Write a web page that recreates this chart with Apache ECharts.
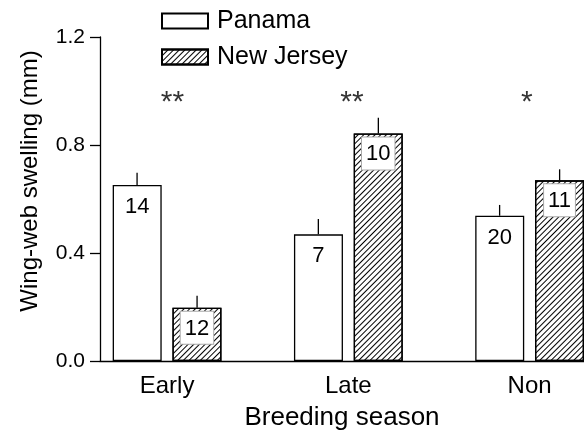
<!DOCTYPE html>
<html>
<head>
<meta charset="utf-8">
<script src="https://cdn.jsdelivr.net/npm/echarts@6/dist/echarts.min.js"></script>
<style>html,body{margin:0;padding:0;background:#fff}#c{width:584px;height:438px}</style>
</head>
<body>
<div id="c"></div>
<script>
const categories = ['Early', 'Late', 'Non'];
const categoryPos = [1, 2, 3];
const panama = [0.652, 0.469, 0.538];
const panamaErr = [0.045, 0.057, 0.040];
const newJersey = [0.197, 0.843, 0.669];
const newJerseyErr = [0.045, 0.058, 0.041];
const panamaN = [14, 7, 20];
const newJerseyN = [12, 10, 11];
const stars = ['**', '**', '*'];
const starPos = [1.03, 2.02, 2.985];
const starY = [0.955, 0.955, 0.955];
const yTicks = [0, 0.4, 0.8, 1.2];

const FONT = 'Liberation Sans, Arial, Helvetica, sans-serif';
const BAR_OFF = 30;
const hatch = {
  symbol: 'rect', color: '#000', backgroundColor: null,
  dashArrayX: [1, 0], dashArrayY: [0.9, 2.5], rotation: -Math.PI / 4, symbolSize: 1
};

function errRender(off) {
  return function (params, api) {
    const x = api.value(0), v = api.value(1), e = api.value(2);
    const p0 = api.coord([x, v]);
    const p1 = api.coord([x, v + e]);
    return {
      type: 'line',
      shape: { x1: p0[0] + off, y1: p0[1], x2: p1[0] + off, y2: p1[1] },
      style: { stroke: '#000', lineWidth: 1.3 }
    };
  };
}

const chart = echarts.init(document.getElementById('c'), null, { renderer: 'canvas' });
chart.setOption({
  animation: false,
  backgroundColor: '#fff',
  textStyle: { fontFamily: FONT, color: '#000' },
  grid: { left: 100, right: 0, top: 37, bottom: 77, outerBoundsMode: 'none', containLabel: false },
  legend: {
    data: ['Panama', 'New Jersey'],
    orient: 'vertical', left: 156, top: 3,
    icon: 'rect', itemWidth: 46, itemHeight: 15, itemGap: 10,
    textStyle: { fontSize: 25, color: '#000', fontFamily: FONT, lineHeight: 26, padding: [0, 0, 0, 4] },
    selectedMode: false
  },
  xAxis: {
    type: 'value', min: 0.63, max: 3.3,
    name: 'Breeding season', nameLocation: 'middle', nameGap: 44,
    nameTextStyle: { fontSize: 26, color: '#000', fontFamily: FONT },
    axisLine: { show: true, onZero: false, lineStyle: { color: '#000', width: 1.3 } },
    axisTick: { show: false },
    splitLine: { show: false },
    axisLabel: {
      customValues: categoryPos, fontSize: 24, color: '#000', margin: 13, fontFamily: FONT,
      formatter: function (v) { const i = categoryPos.indexOf(Math.round(v)); return i >= 0 ? categories[i] : ''; }
    }
  },
  yAxis: {
    type: 'value', min: 0, max: 1.2, interval: 0.4,
    name: 'Wing-web swelling (mm)', nameLocation: 'middle', nameGap: 58,
    nameTextStyle: { fontSize: 24, color: '#000', fontFamily: FONT, padding: [0, 0, 0, 36] },
    axisLine: { show: true, lineStyle: { color: '#000', width: 1.3 } },
    axisTick: { show: true, length: 10, lineStyle: { color: '#000', width: 1.3 }, customValues: yTicks },
    splitLine: { show: false },
    axisLabel: { fontSize: 21, color: '#000', margin: 15, fontFamily: FONT, customValues: yTicks,
      formatter: function (v) { return v.toFixed(1); } }
  },
  series: [
    {
      name: 'Panama', type: 'bar', barWidth: 49, barGap: '22%',
      data: categoryPos.map((x, i) => [x, panama[i], panamaN[i]]),
      itemStyle: { color: '#fff', borderColor: '#000', borderWidth: 1.3 },
      label: { show: true, position: 'insideTop', distance: 4, fontSize: 22, color: '#000', fontFamily: FONT,
        padding: [7, 4, 4, 4], formatter: p => String(p.data[2]) },
      z: 2
    },
    {
      name: 'New Jersey', type: 'bar', barWidth: 49, barGap: '22%',
      data: categoryPos.map((x, i) => [x, newJersey[i], newJerseyN[i]]),
      itemStyle: { color: '#fff', borderColor: '#000', borderWidth: 1.3, decal: hatch },
      label: { show: true, position: 'insideTop', distance: 4, fontSize: 22, color: '#000', fontFamily: FONT,
        padding: [6, 4, 4, 4], backgroundColor: '#fff', borderColor: '#aaa', borderWidth: 1,
        formatter: p => String(p.data[2]) },
      z: 2
    },
    {
      name: 'Panama err', type: 'custom', renderItem: errRender(-BAR_OFF),
      data: categoryPos.map((x, i) => [x, panama[i], panamaErr[i]]),
      encode: { x: 0, y: 1 }, z: 3, silent: true
    },
    {
      name: 'New Jersey err', type: 'custom', renderItem: errRender(BAR_OFF),
      data: categoryPos.map((x, i) => [x, newJersey[i], newJerseyErr[i]]),
      encode: { x: 0, y: 1 }, z: 3, silent: true
    },
    {
      name: 'Significance', type: 'scatter', symbolSize: 0,
      data: starPos.map((x, i) => [x, starY[i], stars[i]]),
      label: { show: true, position: 'inside', fontSize: 30, color: '#000', fontFamily: FONT,
        formatter: p => p.data[2] },
      z: 4, silent: true
    }
  ]
});
</script>
</body>
</html>
